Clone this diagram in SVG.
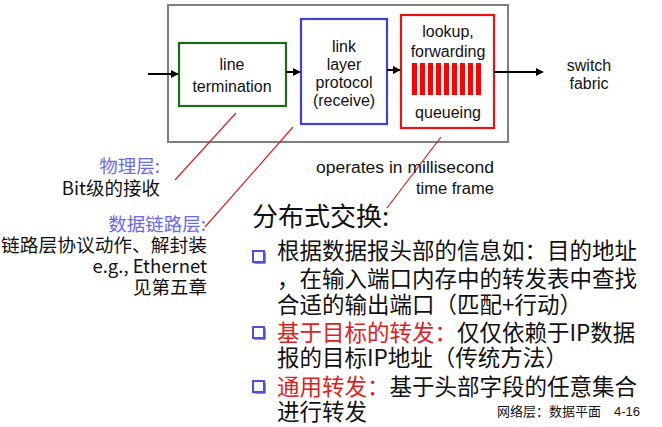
<svg xmlns="http://www.w3.org/2000/svg" width="662" height="427" viewBox="0 0 662 427">
<style>
.box{fill:#fff;stroke-width:2.2}
.lbl{font-family:"Liberation Sans",Arial,sans-serif;font-size:16px;fill:#111;text-anchor:middle}
.cn{font-family:"Noto Sans CJK SC",sans-serif;fill:#111}
.side{font-size:18.5px;text-anchor:end}
.body{font-size:22.5px}
.pt{stroke:#d42020;stroke-width:1.2;fill:none}
.conn{stroke:#000;stroke-width:2;fill:none}
</style>
<defs>
<marker id="ah" viewBox="0 0 10 10" refX="9" refY="5" markerWidth="4" markerHeight="4" orient="auto" markerUnits="strokeWidth">
<path d="M0,0 L10,5 L0,10 z" fill="#000"/>
</marker>
<g id="bul">
<rect x="1.5" y="1.5" width="11" height="11" fill="#1a1a66"/>
<rect x="0" y="0" width="11" height="11" fill="#fff" stroke="#5050e0" stroke-width="2"/>
</g>
</defs>
<rect width="662" height="427" fill="#fff"/>
<g id="switch-box">
<rect x="168" y="5" width="340" height="137" fill="#fff" stroke="#7f7f7f" stroke-width="2"/>
</g>
<g id="line-termination">
<rect class="box" x="179" y="43" width="107" height="63" stroke="#1a6b1a"/>
<text class="lbl" x="232" y="70">line</text>
<text class="lbl" x="232" y="92">termination</text>
</g>
<g id="link-layer">
<rect class="box" x="301" y="19" width="86" height="105" stroke="#4040e0"/>
<text class="lbl" x="344" y="52">link</text>
<text class="lbl" x="344" y="70">layer</text>
<text class="lbl" x="344" y="88">protocol</text>
<text class="lbl" x="344" y="106">(receive)</text>
</g>
<g id="lookup">
<rect class="box" x="401" y="15" width="93" height="113" stroke="#ee1111"/>
<text class="lbl" x="448" y="37">lookup,</text>
<text class="lbl" x="448" y="57">forwarding</text>
<g fill="#ff0000">
<rect x="412" y="63" width="5" height="32"/><rect x="420" y="63" width="5" height="32"/><rect x="428" y="63" width="5" height="32"/>
<rect x="436" y="63" width="5" height="32"/><rect x="444" y="63" width="5" height="32"/><rect x="452" y="63" width="5" height="32"/>
<rect x="460" y="63" width="5" height="32"/><rect x="468" y="63" width="5" height="32"/><rect x="476" y="63" width="5" height="32"/>
</g>
<text class="lbl" x="448" y="118">queueing</text>
</g>
<g id="switch-fabric">
<text class="lbl" x="589" y="71">switch</text>
<text class="lbl" x="589" y="89">fabric</text>
</g>
<g id="connectors">
<line class="conn" x1="148" y1="74" x2="178" y2="74" marker-end="url(#ah)"/>
<line class="conn" x1="286" y1="72" x2="300" y2="72" marker-end="url(#ah)"/>
<line class="conn" x1="387" y1="70" x2="400" y2="70" marker-end="url(#ah)"/>
<line class="conn" x1="494" y1="72" x2="543" y2="72" marker-end="url(#ah)"/>
<line class="pt" x1="236" y1="113" x2="175" y2="180"/>
<line class="pt" x1="293" y1="127" x2="205" y2="227"/>
<line class="pt" x1="441" y1="137" x2="387" y2="208"/>
</g>
<g id="left-notes" class="cn side">
<text x="160" y="173" fill="#6a6aee">物理层:</text>
<text x="160" y="195">Bit级的接收</text>
<text x="206" y="231" fill="#6a6aee">数据链路层:</text>
<text x="207" y="252" textLength="206" lengthAdjust="spacingAndGlyphs">链路层协议动作、解封装</text>
<text x="207" y="273">e.g., Ethernet</text>
<text x="207" y="294">见第五章</text>
</g>
<g id="time-note" class="lbl" style="text-anchor:end">
<text x="494" y="173" textLength="178" lengthAdjust="spacingAndGlyphs">operates in millisecond</text>
<text x="494" y="194" textLength="78" lengthAdjust="spacingAndGlyphs">time frame</text>
</g>
<g id="bullets" class="cn">
<text x="252" y="226" font-size="26">分布式交换:</text>
<use href="#bul" x="253" y="251"/>
<use href="#bul" x="253" y="327"/>
<use href="#bul" x="253" y="381"/>
<text class="body" x="277" y="259">根据数据报头部的信息如：目的地址</text>
<text class="body" x="277" y="287">，在输入端口内存中的转发表中查找</text>
<text class="body" x="277" y="313">合适的输出端口（匹配+行动）</text>
<text class="body" x="277" y="341"><tspan fill="#e02020">基于目标的转发：</tspan>仅仅依赖于IP数据</text>
<text class="body" x="277" y="366">报的目标IP地址（传统方法）</text>
<text class="body" x="277" y="395"><tspan fill="#e02020">通用转发：</tspan>基于头部字段的任意集合</text>
<text class="body" x="277" y="420">进行转发</text>
<text x="497" y="416" font-size="13">网络层：数据平面</text>
<text x="640" y="416" font-size="13" text-anchor="end" font-family="Liberation Sans,sans-serif">4-16</text>
</g>
</svg>
